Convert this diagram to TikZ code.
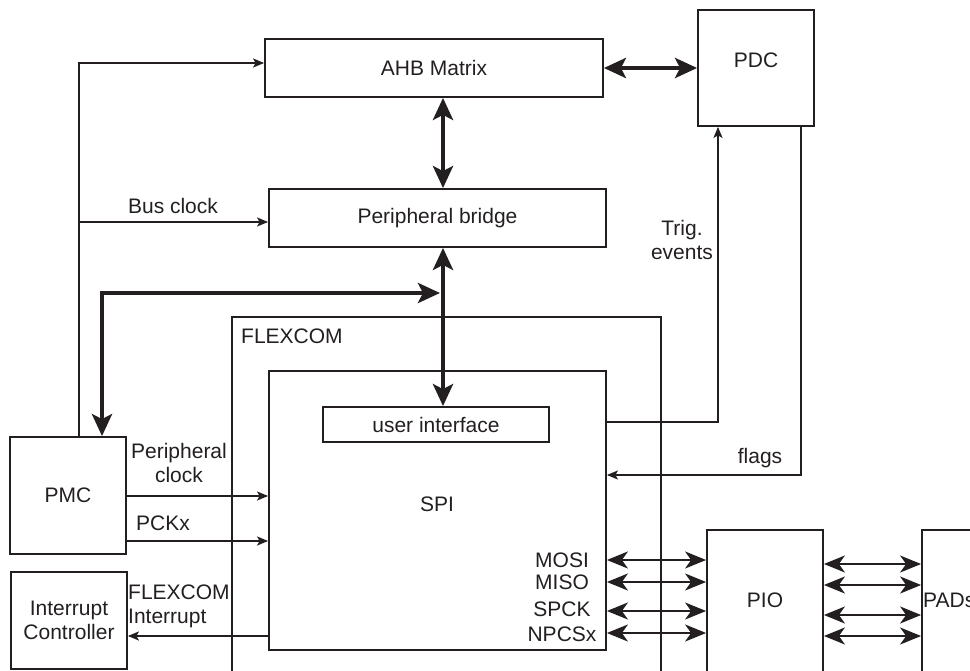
\documentclass[tikz,border=0pt]{standalone}
\usepackage{fontspec}
\setmainfont{Liberation Sans}
\usetikzlibrary{arrows.meta,calc}
\definecolor{ink}{RGB}{35,31,32}
\begin{document}
\begin{tikzpicture}[x=1pt,y=-1pt,
  every node/.style={font=\fontsize{21}{24}\selectfont, text=ink},
  box/.style={draw=ink, rectangle, line width=1.8pt, inner sep=0pt},
  txt/.style={inner sep=0pt, align=center},
  sig/.style={draw=ink, line width=1.6pt, -{Stealth[length=11pt,width=9pt,inset=2.5pt]}},
  dbl/.style={draw=ink, line width=1.8pt, {Stealth[length=21pt,width=17pt,inset=6pt]}-{Stealth[length=21pt,width=17pt,inset=6pt]}},
  bus/.style={draw=ink, line width=4.5pt, {Stealth[length=22pt,width=20pt,inset=5pt]}-{Stealth[length=22pt,width=20pt,inset=5pt]}}
]
\useasboundingbox (0,0) rectangle (970,671);
\clip (0,0) rectangle (970,671);

% boxes
\node[box, minimum width=338pt, minimum height=58pt] (ahb) at (434,68) {AHB Matrix};
\node[box, minimum width=337pt, minimum height=58pt] (bridge) at (437.5,218) {Peripheral bridge};
\node[box, minimum width=116pt, minimum height=116pt] (pdc) at (756,68) {};
\node[txt] (pdct) at (756,60) {PDC};
\node[box, minimum width=429pt, minimum height=363pt] (flex) at (446.5,498.5) {};
\node[txt, anchor=west] (flext) at (241,336) {FLEXCOM};
\node[box, minimum width=337pt, minimum height=279pt] (spi) at (437.5,510.5) {};
\node[txt] (spit) at (437,504) {SPI};
\node[box, minimum width=226pt, minimum height=35pt] (ui) at (436,424.5) {user interface};
\node[box, minimum width=116pt, minimum height=117pt] (pmc) at (68,495.5) {PMC};
\node[box, minimum width=116pt, minimum height=97pt, align=center] (intc) at (69,620.5) {Interrupt\\Controller};
\node[box, minimum width=116pt, minimum height=150pt] (pio) at (765,605) {};
\node[txt] (piot) at (765,600) {PIO};
\node[box, minimum width=116pt, minimum height=150pt] (pads) at (980,605) {};
\node[txt, anchor=west] (padst) at (923,600) {PADs};

% helper coordinates
\coordinate (busx) at (443,0);
\coordinate (pb) at (440,293);
\coordinate (pmcbus) at (102,0);
\coordinate (clk) at (79,0);
\coordinate (ahbin) at (0,63);
\coordinate (brin) at (0,222);
\coordinate (ypc) at (0,496);
\coordinate (ypck) at (0,541);
\coordinate (yint) at (0,636);
\coordinate (trx) at (718,422);
\coordinate (flx) at (801,475);

% thick buses
\draw[bus] (ahb.east) -- (pdc.west);
\draw[bus] (ahb.south -| busx) -- (bridge.north -| busx);
\draw[bus] (bridge.south -| busx) -- (ui.north -| busx);
\draw[bus] (pb) -| (pmc.north -| pmcbus);

% clocks
\draw[sig] (pmc.north -| clk) |- (ahb.west |- ahbin);
\draw[sig] (clk |- brin) -- (bridge.west |- brin);
\draw[sig] (pmc.east |- ypc) -- (spi.west |- ypc);
\draw[sig] (pmc.east |- ypck) -- (spi.west |- ypck);
\draw[sig] (spi.west |- yint) -- (intc.east |- yint);

% PDC links
\draw[sig] (spi.east |- trx) -| (pdc.south -| trx);
\draw[sig] (pdc.south -| flx) |- (spi.east |- flx);

% signal lines
\foreach \y in {560,582,611,633} {
  \coordinate (t) at (0,\y);
  \draw[dbl] (spi.east |- t) -- (pio.west |- t);
}
\foreach \y in {564,585,615,636} {
  \coordinate (t) at (0,\y);
  \draw[dbl] (pio.east |- t) -- (pads.west |- t);
}

% labels
\node[txt] (lbus) at (173,206) {Bus clock};
\node[txt] (ltrig) at (682,240) {Trig.\\events};
\node[txt] (lflags) at (760,458) {flags};
\node[txt] (lpclk) at (179,463) {Peripheral\\clock};
\node[txt] (lpck) at (163,523) {PCKx};
\node[txt, anchor=west, align=left] (lint) at (128,606) {FLEXCOM\\Interrupt};
\node[txt] (lmosi) at (562,560) {MOSI};
\node[txt] (lmiso) at (562,582) {MISO};
\node[txt] (lspck) at (562,609) {SPCK};
\node[txt] (lnpcs) at (562,634) {NPCSx};
\end{tikzpicture}
\end{document}
